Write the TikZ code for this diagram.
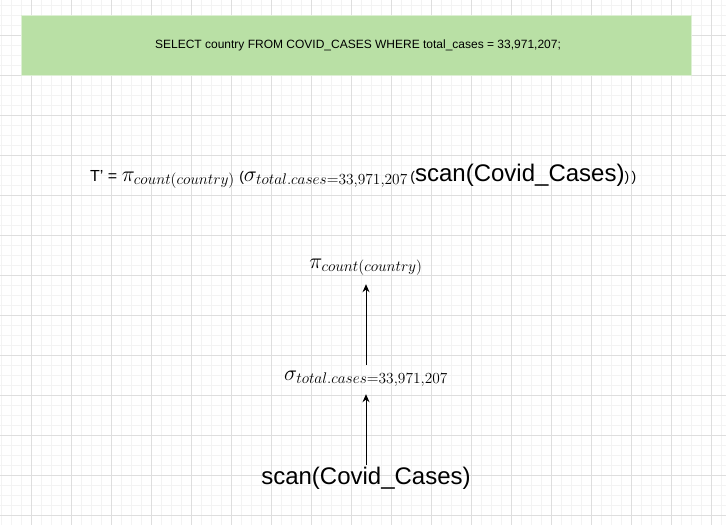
\documentclass[tikz,border=0pt]{standalone}
\usepackage{fix-cm}
\usepackage{amsmath}
\usepackage[no-math]{fontspec}
\setmainfont{Liberation Sans}
\usepackage{tikz}
\usetikzlibrary{arrows.meta,positioning}
\definecolor{gridminor}{HTML}{F3F3F3}
\definecolor{gridmajor}{HTML}{DEDEDE}
\definecolor{sqlgreen}{HTML}{B9E0A5}
\definecolor{sqledge}{HTML}{DDEFD4}
\newcommand{\mathtxt}[1]{{\fontsize{22}{26}\selectfont$#1$}}
\newcommand{\smalltxt}[1]{{\fontsize{14}{16}\selectfont#1}}
\newcommand{\bigtxt}[1]{{\fontsize{24}{28}\selectfont#1}}

\begin{document}
\begin{tikzpicture}[x=1pt,y=-1pt]
    \useasboundingbox (0,0) rectangle (726,525);
    \foreach \x in {1.7,11.7,...,726}
      \draw[gridminor,line width=0.8pt] (\x,0)--(\x,525);
    \foreach \y in {5,15,...,525}
      \draw[gridminor,line width=0.8pt] (0,\y)--(726,\y);
    \foreach \x in {31.7,71.7,...,726}
      \draw[gridmajor,line width=0.8pt] (\x,0)--(\x,525);
    \foreach \y in {35,75,...,525}
      \draw[gridmajor,line width=0.8pt] (0,\y)--(726,\y);
    \filldraw[draw=sqledge,fill=sqlgreen,line width=1pt](21,15) rectangle (691,75);
    \node (sql) at (358,45) {\fontsize{12}{14}\selectfont SELECT country FROM COVID\_CASES WHERE total\_cases = 33,971,207;};
    \node[anchor=base west,inner sep=0pt] (tprime) at (90,181)
      {\fontsize{16}{19}\selectfont T' = \mathtxt{\pi_{count(country)}}\ \smalltxt{(}\mathtxt{\sigma_{total.cases=33,971,207}}\,\smalltxt{(}\bigtxt{scan(Covid\_Cases)}\smalltxt{)\,)}};
    \node[anchor=base,inner sep=0pt,text height=10pt,text depth=8pt] (proj) at (366,268) {\mathtxt{\pi_{count(country)}}};
    \node[anchor=base,inner sep=0pt,text height=15pt,text depth=6pt] (sel) at (366,380) {\mathtxt{\sigma_{total.cases=33,971,207}}};
    \node[anchor=base,inner sep=0pt,text height=19pt,text depth=6pt] (scan) at (366,484) {\bigtxt{scan(Covid\_Cases)}};
    \draw[->,>={Stealth[length=8pt,width=7pt]},line width=1pt] (sel.north)--([yshift=-8pt]proj.south);
    \draw[->,>={Stealth[length=8pt,width=7pt]},line width=1pt] (scan.north)--([yshift=-8pt]sel.south);
\end{tikzpicture}
\end{document}
